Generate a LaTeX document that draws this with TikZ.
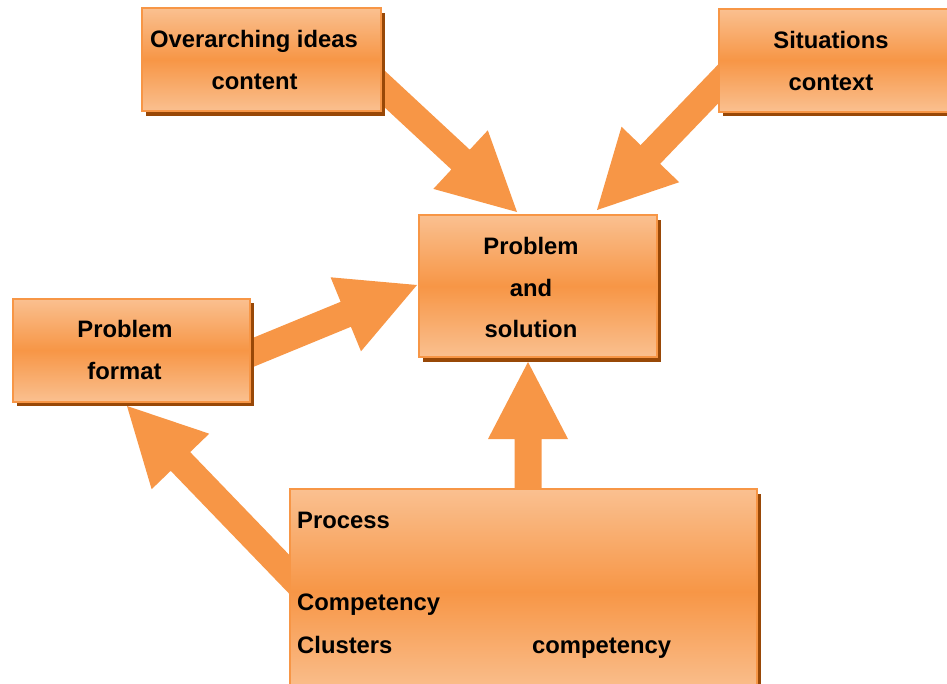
\documentclass[tikz,border=0pt]{standalone}
\usepackage{fontspec}
\setmainfont{Liberation Sans}
\usetikzlibrary{calc,shadows}
\definecolor{orangemid}{HTML}{F79646}
\definecolor{orangelight}{HTML}{FAC090}
\definecolor{shadowc}{HTML}{984807}
\newcommand\blockarrow[2]{%
  \coordinate (hb) at ($(#2)!77pt!(#1)$);
  \fill[arrowc] ($(#1)!13.5pt!90:(#2)$) -- ($(hb)!13.5pt!90:(#2)$) -- ($(hb)!40pt!90:(#2)$) -- (#2)
     -- ($(hb)!40pt!-90:(#2)$) -- ($(hb)!13.5pt!-90:(#2)$) -- ($(#1)!13.5pt!-90:(#2)$) -- cycle;}
\tikzset{
  arrowc/.style={fill=orangemid},
  box/.style={draw=orangemid, line width=2.2pt, rectangle, anchor=north west, inner sep=0pt,
     top color=orangelight, bottom color=orangelight, middle color=orangemid,
     drop shadow={shadow xshift=4pt, shadow yshift=-4.5pt, fill=shadowc, opacity=1}},
  txt/.style={inner sep=0pt, anchor=base, font=\bfseries\fontsize{23.8}{28}\selectfont},
  txtl/.style={txt, anchor=base west}
}
\begin{document}
\begin{tikzpicture}[x=1pt,y=-1pt]
\useasboundingbox (0,0) rectangle (947,683);
\clip (0,0) rectangle (947,683);
% arrow end points
\coordinate (a1s) at (334,42);  \coordinate (a1t) at (517,212);
\coordinate (a2s) at (770,30);  \coordinate (a2t) at (597,210);
\coordinate (a3s) at (186,380); \coordinate (a3t) at (417,285);
\coordinate (a4s) at (314,600); \coordinate (a4t) at (127,406);
\coordinate (a5s) at (528,530); \coordinate (a5t) at (528,362);
\blockarrow{a1s}{a1t}
\blockarrow{a2s}{a2t}
\blockarrow{a3s}{a3t}
\blockarrow{a4s}{a4t}
\blockarrow{a5s}{a5t}
% boxes
\node[box, minimum width=239pt, minimum height=103pt] (over) at (141.1,7.1) {};
\node[box, minimum width=260pt, minimum height=103pt] (sit) at (718.1,7.6) {};
\node[box, minimum width=238pt, minimum height=142pt] (prob) at (418.1,214.1) {};
\node[box, minimum width=237pt, minimum height=103pt] (fmt) at (12.1,297.6) {};
\node[box, minimum width=467pt, minimum height=205pt] (proc) at (289.1,488.1) {};
% texts
\node[txt] (t1a) at (254,47) {Overarching ideas};
\node[txt] (t1b) at (254.5,89) {content};
\node[txt] (t2a) at (831,48) {Situations};
\node[txt] (t2b) at (831,90) {context};
\node[txt] (t3a) at (531,254) {Problem};
\node[txt] (t3b) at (531,296) {and};
\node[txt] (t3c) at (531,337) {solution};
\node[txt] (t4a) at (125,337) {Problem};
\node[txt] (t4b) at (124.5,379) {format};
\node[txtl] (t5a) at (297,528) {Process};
\node[txtl] (t5b) at (297,610) {Competency};
\node[txtl] (t5c) at (297,653) {Clusters};
\node[txtl] (t5d) at (532,653) {competency};
\end{tikzpicture}
\end{document}
